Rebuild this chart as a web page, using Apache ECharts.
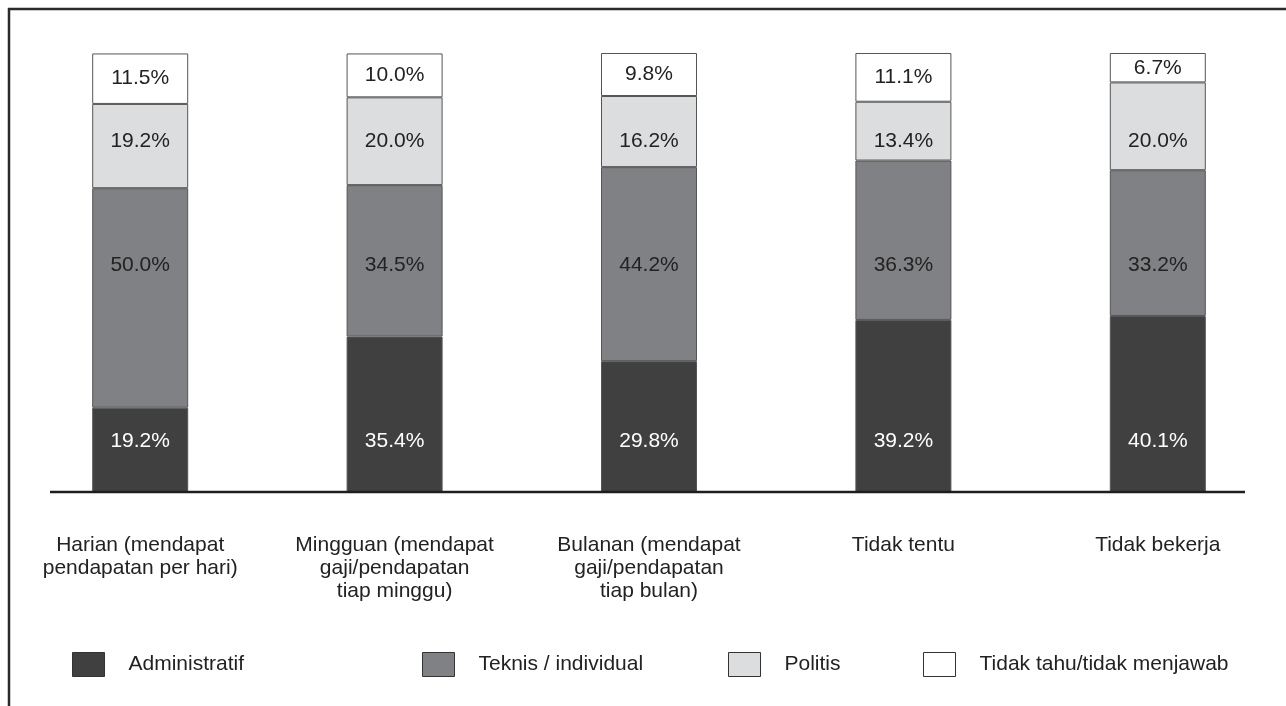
<!DOCTYPE html>
<html lang="id">
<head>
    <meta charset="UTF-8">
    <title>Chart</title>
    <script src="https://cdn.jsdelivr.net/npm/echarts@6/dist/echarts.min.js"></script>
    <style>
      html, body { margin: 0; padding: 0; background: #fff; }
    </style>
</head>
<body>
    <div id="main" style="width: 1286px;height:706px;"></div>
</body>

<script>
  // kategori (sumbu x)
  const categories = [
    'Harian (mendapat\npendapatan per hari)',
    'Mingguan (mendapat\ngaji/pendapatan\ntiap minggu)',
    'Bulanan (mendapat\ngaji/pendapatan\ntiap bulan)',
    'Tidak tentu',
    'Tidak bekerja'
  ]
  // nama seri
  const seriesNames = ['Administratif', 'Teknis / individual', 'Politis', 'Tidak tahu/tidak menjawab']
  // nilai (%)
  const administratif = [19.2, 35.4, 29.8, 39.2, 40.1]
  const teknis = [50.0, 34.5, 44.2, 36.3, 33.2]
  const politis = [19.2, 20.0, 16.2, 13.4, 20.0]
  const tidakTahu = [11.5, 10.0, 9.8, 11.1, 6.7]

  const stacks = [administratif, teknis, politis, tidakTahu]
  const colors = ['#404040', '#808184', '#dcdddf', '#ffffff']
  const labelColors = ['#ffffff', '#222222', '#222222', '#222222']
  // label tiap baris diletakkan pada tinggi tetap (null = tengah segmen)
  const labelRows = [11.6, 51.7, 80.0, null]
  const legendLeft = [72, 422, 728, 923]

  const font = '"Liberation Sans", Arial, Helvetica, sans-serif'

  const myChart = echarts.init(document.getElementById('main'))

  const option = {
    animation: false,
    textStyle: { fontFamily: font },
    grid: { left: 13, top: 53, width: 1272, height: 439 },
    legend: seriesNames.map((name, i) => ({
      data: [name],
      left: legendLeft[i],
      top: 652,
      padding: 0,
      itemWidth: 32,
      itemHeight: 24,
      icon: 'rect',
      selectedMode: false,
      itemStyle: { borderColor: '#333', borderWidth: 1 },
      textStyle: { fontSize: 21, color: '#222', padding: [0, 0, 0, 19], fontFamily: font }
    })),
    xAxis: {
      type: 'category',
      data: categories,
      axisLine: { show: false },
      axisTick: { show: false },
      axisLabel: {
        interval: 0,
        margin: 42,
        fontSize: 21,
        lineHeight: 23,
        color: '#222',
        fontFamily: font
      }
    },
    yAxis: {
      type: 'value',
      min: 0,
      max: 100,
      show: false,
      splitLine: { show: false }
    },
    series: seriesNames.map((name, s) => ({
      name: name,
      type: 'bar',
      stack: 'total',
      barWidth: 96,
      data: stacks[s],
      itemStyle: { color: colors[s], borderColor: '#555', borderWidth: 1 },
      label: {
        show: true,
        position: 'inside',
        formatter: p => p.value.toFixed(1) + '%',
        fontSize: 21,
        color: labelColors[s],
        fontFamily: font
      }
    })),
    graphic: [
      // bingkai atas dan kiri
      { type: 'line', shape: { x1: 8, y1: 9, x2: 1286, y2: 9 }, style: { stroke: '#2a2a2a', lineWidth: 2.5 }, z: 100 },
      { type: 'line', shape: { x1: 9, y1: 8, x2: 9, y2: 706 }, style: { stroke: '#2a2a2a', lineWidth: 2.5 }, z: 100 },
      // garis dasar
      { type: 'line', shape: { x1: 50, y1: 492, x2: 1245, y2: 492 }, style: { stroke: '#1e1e1e', lineWidth: 2.5 }, z: 100 }
    ]
  }

  myChart.setOption(option)

  // geser label ke baris tetap, dihitung lewat skala sumbu
  myChart.setOption({
    series: stacks.map((vals, s) => ({
      data: vals.map((v, i) => {
        const row = labelRows[s]
        if (row == null) return v
        let base = 0
        for (let k = 0; k < s; k++) base += stacks[k][i]
        const mid = myChart.convertToPixel({ gridIndex: 0 }, [i, base + v / 2])[1]
        const target = myChart.convertToPixel({ gridIndex: 0 }, [i, row])[1]
        return { value: v, label: { offset: [0, target - mid] } }
      })
    }))
  })
</script>

</html>
